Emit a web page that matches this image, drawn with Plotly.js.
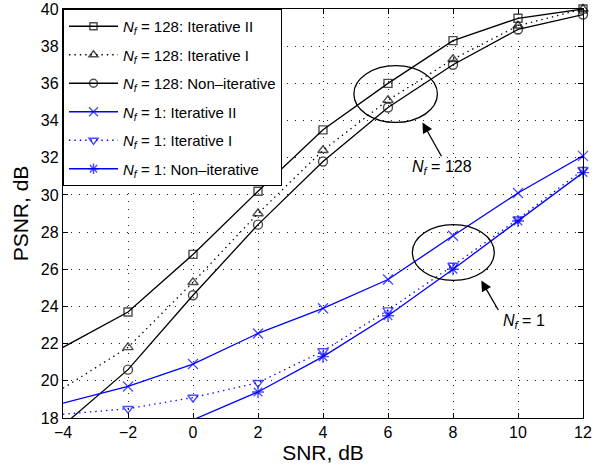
<!DOCTYPE html>
<html><head><meta charset="utf-8">
<script src="https://cdn.plot.ly/plotly-3.0.1.min.js"></script>
<style>html,body{margin:0;padding:0;background:#fff}#chart{width:594px;height:471px}</style>
</head><body><div id="chart"></div>
<script>
const snr = [-4, -2, 0, 2, 4, 6, 8, 10, 12];
const nf128IterII = [21.8, 23.7, 26.8, 30.2, 33.5, 36.0, 38.3, 39.5, 40.0];
const nf128IterI  = [19.6, 21.8, 25.3, 29.0, 32.4, 35.1, 37.3, 39.1, 40.0];
const nf128NonIt  = [17.6, 20.6, 24.6, 28.4, 31.8, 34.7, 37.0, 38.9, 39.7];
const nf1IterII   = [18.8, 19.7, 20.9, 22.55, 23.9, 25.45, 27.8, 30.1, 32.1];
const nf1IterI    = [18.2, 18.5, 19.1, 19.9, 21.6, 23.8, 26.2, 28.7, 31.35];
const snrNonIt1   = [0, 2, 4, 6, 8, 10, 12];
const nf1NonIt    = [17.9, 19.4, 21.3, 23.5, 26.0, 28.6, 31.2];
const labels = [
  "<i>N<sub>f</sub></i> = 128: Iterative II",
  "<i>N<sub>f</sub></i> = 128: Iterative I",
  "<i>N<sub>f</sub></i> = 128: Non\u2013iterative",
  "<i>N<sub>f</sub></i> = 1: Iterative II",
  "<i>N<sub>f</sub></i> = 1: Iterative I",
  "<i>N<sub>f</sub></i> = 1: Non\u2013iterative"
];

const BLACK = '#000000', BLUE = '#0000ff';
const DOTS = '1.4px,4px';
function sizes(xs, ys, s) { return xs.map((x, i) => (x < -3 || ys[i] < 18) ? 0 : s); }
function tr(xs, ys, name, color, dash, symbol, s, grp) {
  return {
    x: xs, y: ys, name: name, type: 'scatter', mode: 'lines+markers',
    legendgroup: grp,
    line: {color: color, width: 1.3, dash: dash},
    marker: {symbol: symbol, size: sizes(xs, ys, s), color: color, line: {color: color, width: 1.4}},
    cliponaxis: false
  };
}
const data = [
  tr(snr, nf128IterII, labels[0], BLACK, 'solid', 'square-open', 8, 'a'),
  tr(snr, nf128IterI, labels[1], BLACK, DOTS, 'triangle-up-open', 9, 'b'),
  tr(snr, nf128NonIt, labels[2], BLACK, 'solid', 'circle-open', 9, 'c'),
  tr(snr, nf1IterII, labels[3], BLUE, 'solid', 'x-thin-open', 10, 'd'),
  tr(snr, nf1IterI, labels[4], BLUE, DOTS, 'triangle-down-open', 9, 'e'),
  tr(snrNonIt1, nf1NonIt, labels[5], BLUE, 'solid', 'asterisk-open', 10, 'f')
];

const font = {family: 'Liberation Sans, Arial, sans-serif', color: '#000'};
const axisCommon = {
  showgrid: true, gridcolor: '#222', griddash: '1px,7px', gridwidth: 1, zeroline: false,
  showline: true, linecolor: '#000', linewidth: 1.2, mirror: 'ticks', ticks: 'inside', ticklen: 5, tickcolor: '#000',
  tickfont: Object.assign({size: 16}, font)
};
const layout = {
  width: 594, height: 471,
  margin: {l: 63, r: 11, t: 9, b: 53},
  paper_bgcolor: '#fff', plot_bgcolor: '#fff',
  font: Object.assign({size: 15}, font),
  showlegend: true,
  legend: {x: 0, y: 1, xanchor: 'left', yanchor: 'top', bgcolor: '#fff', bordercolor: '#000', borderwidth: 1,
    font: Object.assign({size: 15}, font), tracegroupgap: 6, itemwidth: 49},
  xaxis: Object.assign({range: [-4, 12], tickvals: [-4,-2,0,2,4,6,8,10,12],
    ticktext: ['\u22124','\u22122','0','2','4','6','8','10','12'],
    title: {text: 'SNR, dB', font: Object.assign({size: 21}, font), standoff: 4}}, axisCommon),
  yaxis: Object.assign({range: [18, 40], tickvals: [18,20,22,24,26,28,30,32,34,36,38,40],
    title: {text: 'PSNR, dB', font: Object.assign({size: 21}, font), standoff: 6}}, axisCommon),
  shapes: [
    {type: 'circle', xref: 'x', yref: 'y', x0: 4.95, x1: 7.52, y0: 33.9, y1: 36.95, line: {color: '#000', width: 1.3}},
    {type: 'circle', xref: 'x', yref: 'y', x0: 6.75, x1: 9.27, y0: 25.4, y1: 28.4, line: {color: '#000', width: 1.3}}
  ],
  annotations: [
    {x: 7.06, y: 33.9, ax: 7.67, ay: 32.0, axref: 'x', ayref: 'y', xref: 'x', yref: 'y', text: '', showarrow: true,
      arrowhead: 2, arrowsize: 1.6, arrowwidth: 1.3, arrowcolor: '#000'},
    {x: 7.67, y: 31.45, xref: 'x', yref: 'y', text: '<i>N<sub>f</sub></i> = 128', showarrow: false, font: Object.assign({size: 16}, font)},
    {x: 8.87, y: 25.39, ax: 9.42, ay: 23.73, axref: 'x', ayref: 'y', xref: 'x', yref: 'y', text: '', showarrow: true,
      arrowhead: 2, arrowsize: 1.6, arrowwidth: 1.3, arrowcolor: '#000'},
    {x: 10.19, y: 23.2, xref: 'x', yref: 'y', text: '<i>N<sub>f</sub></i> = 1', showarrow: false, font: Object.assign({size: 16}, font)}
  ]
};
Plotly.newPlot('chart', data, layout, {displayModeBar: false, staticPlot: true});
</script></body></html>
